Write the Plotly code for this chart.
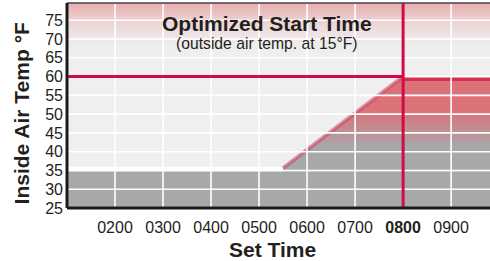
import plotly.graph_objects as go

# ---- data ----
hour_ticks = [2, 3, 4, 5, 6, 7, 8, 9]
hour_labels = ["0200", "0300", "0400", "0500", "0600", "0700", "<b>0800</b>", "0900"]
temp_ticks = [25, 30, 35, 40, 45, 50, 55, 60, 65, 70, 75]
temp_labels = [str(t) for t in temp_ticks]

set_time = 8          # occupied start time (0800)
set_temp = 60         # set point °F
setback_temp = 35     # unoccupied temperature °F
ramp_start = 5.5      # optimized start of recovery (~0530)
ramp_time = [ramp_start, set_time]
ramp_temp = [setback_temp, set_temp]

x_range = [1, 9.81]
y_range = [25, 79.6]

FONT = "Liberation Sans, Arial, Helvetica, sans-serif"
INK = "#231f20"
RED = "#cf0c45"
GRAY = "#a7a8aa"
LIGHT = "#efefef"

fig = go.Figure()

xa, xb = x_range[0] - 1, x_range[1] + 1

# pink gradient at the top (comfort band above 65)
fig.add_trace(go.Scatter(
    x=[xa, xb, xb, xa, xa], y=[65, 65, y_range[1] + 1, y_range[1] + 1, 65],
    fill="toself", mode="none", hoverinfo="skip", showlegend=False,
    fillgradient=dict(type="vertical", start=65, stop=y_range[1],
                      colorscale=[[0, "rgba(239,239,239,0)"], [1, "rgba(233,172,174,1)"]]),
))

# gray setback band
fig.add_trace(go.Scatter(
    x=[xa, xb, xb, xa, xa], y=[y_range[0] - 1, y_range[0] - 1, 34.8, 34.8, y_range[0] - 1],
    fill="toself", mode="none", fillcolor=GRAY, hoverinfo="skip", showlegend=False,
))

# white band along setback level before recovery
fig.add_trace(go.Scatter(
    x=[xa, ramp_start, ramp_start, xa, xa], y=[34.8, 34.8, 36, 36, 34.8],
    fill="toself", mode="none", fillcolor="white", hoverinfo="skip", showlegend=False,
))

# recovery ramp region (red fading to gray)
fig.add_trace(go.Scatter(
    x=[ramp_time[0], ramp_time[1], xb, xb, ramp_time[0], ramp_time[0]],
    y=[ramp_temp[0] + 0.8, ramp_temp[1], set_temp, 34.8, 34.8, ramp_temp[0] + 0.8],
    fill="toself", mode="none", hoverinfo="skip", showlegend=False,
    fillgradient=dict(type="vertical", start=34.8, stop=set_temp,
                      colorscale=[[0, GRAY], [0.25, GRAY], [0.64, "#dc7279"], [1, "#dc7279"]]),
))

# ramp edge
fig.add_trace(go.Scatter(
    x=ramp_time, y=[ramp_temp[0] + 0.6, ramp_temp[1]], mode="lines",
    line=dict(color="rgba(200,70,95,0.55)", width=4), hoverinfo="skip", showlegend=False,
))
# top edge of occupied region
fig.add_trace(go.Scatter(
    x=[set_time, xb], y=[set_temp - 0.5, set_temp - 0.5], mode="lines",
    line=dict(color="rgba(212,35,75,0.85)", width=5), hoverinfo="skip", showlegend=False,
))

shapes = []
# white grid above the fills
for h in hour_ticks:
    shapes.append(dict(type="line", xref="x", yref="y", x0=h, x1=h, y0=y_range[0], y1=y_range[1],
                       line=dict(color="white", width=1.6), layer="above"))
for t in temp_ticks[1:]:
    shapes.append(dict(type="line", xref="x", yref="y", x0=x_range[0], x1=x_range[1], y0=t, y1=t,
                       line=dict(color="white", width=1.6), layer="above"))
# red guide lines
shapes.append(dict(type="line", xref="x", yref="y", x0=x_range[0], x1=set_time, y0=set_temp, y1=set_temp,
                   line=dict(color=RED, width=3), layer="above"))
shapes.append(dict(type="line", xref="x", yref="y", x0=set_time, x1=set_time, y0=y_range[0], y1=y_range[1],
                   line=dict(color=RED, width=3), layer="above"))
# frame
shapes.append(dict(type="line", xref="paper", yref="paper", x0=0, x1=1, y0=1, y1=1,
                   line=dict(color="#444", width=1.5), layer="above"))
shapes.append(dict(type="line", xref="paper", yref="paper", x0=0, x1=1, y0=0, y1=0,
                   line=dict(color="#1a1a1a", width=3), layer="above"))
shapes.append(dict(type="line", xref="paper", yref="paper", x0=0, x1=0, y0=0, y1=1,
                   line=dict(color="#1a1a1a", width=3), layer="above"))

annotations = [
    dict(text="<b>Optimized Start Time</b>", xref="paper", yref="paper", x=0.473, y=0.902,
         xanchor="center", yanchor="middle", showarrow=False, font=dict(size=21, color=INK, family=FONT)),
    dict(text="(outside air temp. at 15°F)", xref="paper", yref="paper", x=0.473, y=0.80,
         xanchor="center", yanchor="middle", showarrow=False, font=dict(size=15.7, color=INK, family=FONT)),
    dict(text="<b>Inside Air Temp °F</b>", xref="paper", yref="paper", x=-0.108, y=0.463,
         xanchor="center", yanchor="middle", textangle=-90, showarrow=False,
         font=dict(size=21, color=INK, family=FONT)),
    dict(text="<b>Set Time</b>", xref="paper", yref="paper", x=0.485, y=-0.2,
         xanchor="center", yanchor="middle", showarrow=False, font=dict(size=21, color=INK, family=FONT)),
]

fig.update_layout(
    width=490, height=261,
    margin=dict(l=67, r=0, t=3, b=53, autoexpand=False),
    paper_bgcolor="white", plot_bgcolor=LIGHT,
    font=dict(family=FONT, color=INK),
    shapes=shapes, annotations=annotations,
    xaxis=dict(range=x_range, tickvals=hour_ticks, ticktext=hour_labels, showgrid=False,
               zeroline=False, showline=False, ticks="", automargin=False, ticklabelstandoff=8,
               tickfont=dict(size=16, color=INK, family=FONT), fixedrange=True),
    yaxis=dict(range=y_range, tickvals=temp_ticks, ticktext=temp_labels, showgrid=False,
               zeroline=False, showline=False, ticks="", automargin=False, ticklabelstandoff=3,
               tickfont=dict(size=16, color=INK, family=FONT), fixedrange=True),
)

fig.write_html("out.html", config={"displayModeBar": False},
               post_script="document.body.style.margin='0px';document.body.style.overflow='hidden';")
